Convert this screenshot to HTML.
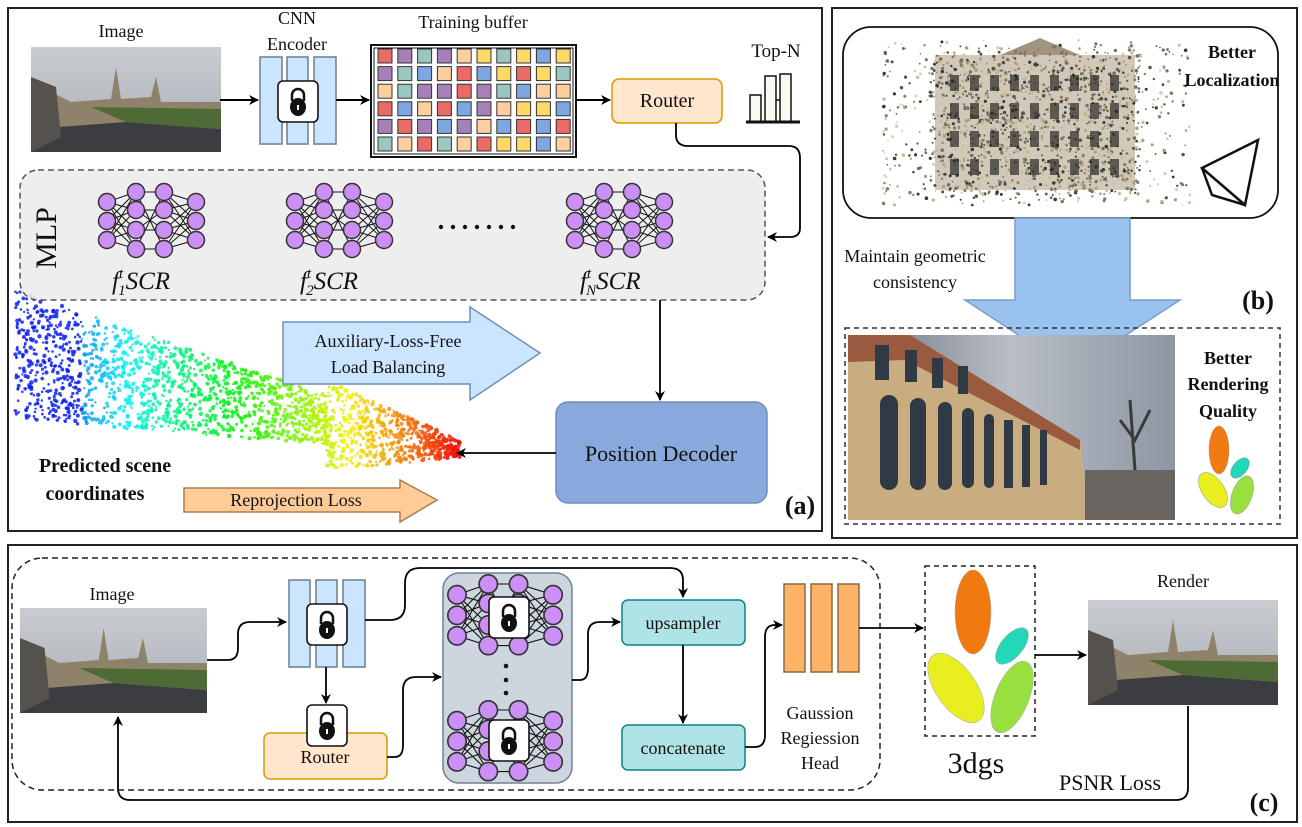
<!DOCTYPE html>
<html><head><meta charset="utf-8"><style>
html,body{margin:0;padding:0;background:#fff}
svg{display:block}
text{font-family:"Liberation Serif",serif;fill:#111}
</style></head><body>
<svg id="s" width="1302" height="827" viewBox="0 0 1302 827" xmlns="http://www.w3.org/2000/svg">
<defs>
<marker id="ah" markerWidth="10" markerHeight="10" refX="9" refY="5" orient="auto" markerUnits="userSpaceOnUse"><path d="M0,0 L10,5 L0,10 L3,5 Z" fill="#000"/></marker>
<g id="nn">
 <g stroke="#111" stroke-width="1">
  <path d="M0,10L29,0M0,10L29,18M0,10L29,38M0,10L29,57M0,29L29,0M0,29L29,18M0,29L29,38M0,29L29,57M0,48L29,0M0,48L29,18M0,48L29,38M0,48L29,57"/>
  <path d="M29,0L57,0M29,0L57,57M29,18L57,38M29,38L57,18M29,57L57,0M29,57L57,57M29,18L57,18M29,38L57,38"/>
  <path d="M57,0L89,10M57,0L89,29M57,0L89,48M57,18L89,10M57,18L89,29M57,18L89,48M57,38L89,10M57,38L89,29M57,38L89,48M57,57L89,10M57,57L89,29M57,57L89,48"/>
 </g>
 <g fill="#cc8ff5" stroke="#333" stroke-width="1.5">
  <circle cx="0" cy="10" r="8.5"/><circle cx="0" cy="29" r="8.5"/><circle cx="0" cy="48" r="8.5"/>
  <circle cx="29" cy="0" r="8.5"/><circle cx="29" cy="18" r="8.5"/><circle cx="29" cy="38" r="8.5"/><circle cx="29" cy="57" r="8.5"/>
  <circle cx="57" cy="0" r="8.5"/><circle cx="57" cy="18" r="8.5"/><circle cx="57" cy="38" r="8.5"/><circle cx="57" cy="57" r="8.5"/>
  <circle cx="89" cy="10" r="8.5"/><circle cx="89" cy="29" r="8.5"/><circle cx="89" cy="48" r="8.5"/>
 </g>
</g>
<g id="lock">
 <rect x="0" y="0" width="40" height="41" rx="5" fill="#fff" stroke="#111" stroke-width="1.6"/>
 <path d="M14,20 V14 a6,6 0 0 1 12,0 V20" fill="none" stroke="#111" stroke-width="2.5"/>
 <ellipse cx="20" cy="26" rx="8" ry="9" fill="#111"/>
 <rect x="19" y="24" width="2" height="5" fill="#fff"/>
</g>
<linearGradient id="sky" x1="0" y1="0" x2="0" y2="1"><stop offset="0" stop-color="#c9ccd1"/><stop offset="1" stop-color="#a9aeb5"/></linearGradient>
<linearGradient id="sky2" x1="0" y1="0" x2="1" y2="0"><stop offset="0" stop-color="#6d7480"/><stop offset="0.5" stop-color="#b9bec6"/><stop offset="1" stop-color="#8d96a3"/></linearGradient>
<g id="photo">
 <rect x="0" y="0" width="190" height="105" fill="url(#sky)"/>
 <path d="M0,40 L20,45 L40,55 L80,52 L85,20 L90,52 L120,50 L125,30 L130,55 L190,55 L190,70 L0,82 Z" fill="#8f826a"/>
 <path d="M60,60 L190,62 L190,82 L95,75 Z" fill="#4f6b35"/>
 <path d="M0,82 L95,75 L190,82 L190,105 L0,105 Z" fill="#3b3d40"/>
 <path d="M0,30 L25,40 L30,90 L0,105 Z" fill="#55524d"/>
</g>
</defs>

<rect x="8" y="8" width="814" height="523" fill="none" stroke="#222" stroke-width="2"/>
<rect x="832" y="8" width="465" height="530" fill="none" stroke="#222" stroke-width="2"/>
<rect x="8" y="545" width="1289" height="277" fill="none" stroke="#222" stroke-width="2"/>

<g id="cloudA"></g>

<text x="121" y="37" font-size="18" text-anchor="middle">Image</text>
<use href="#photo" x="31" y="47"/>
<line x1="220" y1="100" x2="258" y2="100" stroke="#000" stroke-width="2" marker-end="url(#ah)"/>

<text x="297" y="24" font-size="18" text-anchor="middle">CNN</text>
<text x="297" y="50" font-size="18" text-anchor="middle">Encoder</text>
<g fill="#cce5ff" stroke="#6c7e90" stroke-width="1.5">
 <rect x="260" y="57" width="22" height="87"/><rect x="287" y="57" width="21" height="87"/><rect x="314" y="57" width="22" height="87"/>
</g>
<use href="#lock" x="278" y="81"/>
<line x1="336" y1="100" x2="369" y2="100" stroke="#000" stroke-width="2" marker-end="url(#ah)"/>

<text x="473" y="28" font-size="18" text-anchor="middle">Training buffer</text>
<rect x="371" y="45" width="205" height="112" fill="#fff" stroke="#111" stroke-width="2"/>
<rect x="374" y="48" width="199" height="106" fill="none" stroke="#111" stroke-width="1"/>
<g id="grid"></g>
<line x1="576" y1="100" x2="610" y2="100" stroke="#000" stroke-width="2" marker-end="url(#ah)"/>

<rect x="612" y="79" width="110" height="44" rx="7" fill="#ffe6cc" stroke="#d79b00" stroke-width="1.5"/>
<text x="667" y="107" font-size="20" text-anchor="middle">Router</text>
<text x="776" y="57" font-size="19" text-anchor="middle">Top-N</text>
<g fill="#fbf8ee" stroke="#111" stroke-width="1.5">
 <rect x="750" y="95" width="11" height="27"/><rect x="765" y="76" width="11" height="46"/><rect x="780" y="74" width="11" height="48"/><line x1="776" y1="100" x2="780" y2="100"/>
</g>
<line x1="746" y1="122" x2="800" y2="122" stroke="#111" stroke-width="3"/>
<path d="M676,123 V135 Q676,146 688,146 H789 Q800,146 800,158 V228 Q800,237 790,237 H768" fill="none" stroke="#000" stroke-width="1.8" marker-end="url(#ah)"/>

<rect x="20" y="170" width="745" height="130" rx="18" fill="#ececec" fill-opacity="0.9" stroke="#555" stroke-width="1.5" stroke-dasharray="6,4"/>
<text transform="translate(56,238) rotate(-90)" font-size="30" text-anchor="middle">MLP</text>
<use href="#nn" x="107" y="192"/>
<use href="#nn" x="295" y="192"/>
<use href="#nn" x="575" y="192"/>
<g fill="#111"><circle cx="441" cy="227" r="2.2"/><circle cx="453" cy="227" r="2.2"/><circle cx="465" cy="227" r="2.2"/><circle cx="477" cy="227" r="2.2"/><circle cx="489" cy="227" r="2.2"/><circle cx="501" cy="227" r="2.2"/><circle cx="513" cy="227" r="2.2"/></g>
<text x="112" y="289" font-size="25" font-style="italic">f<tspan font-size="15" dy="-11">t</tspan><tspan font-size="15" dx="-5" dy="17">1</tspan><tspan dy="-6">SCR</tspan></text>
<text x="300" y="289" font-size="25" font-style="italic">f<tspan font-size="15" dy="-11">t</tspan><tspan font-size="15" dx="-5" dy="17">2</tspan><tspan dy="-6">SCR</tspan></text>
<text x="580" y="289" font-size="25" font-style="italic">f<tspan font-size="15" dy="-11">t</tspan><tspan font-size="15" dx="-5" dy="17">N</tspan><tspan dy="-6">SCR</tspan></text>

<line x1="660" y1="300" x2="660" y2="400" stroke="#000" stroke-width="1.8" marker-end="url(#ah)"/>
<path d="M283,322 H470 V307 L540,353 L470,400 V384 H283 Z" fill="#cce5ff" stroke="#6c8ebf" stroke-width="1.5"/>
<text x="388" y="347" font-size="18" text-anchor="middle">Auxiliary-Loss-Free</text>
<text x="388" y="373" font-size="18" text-anchor="middle">Load Balancing</text>

<rect x="556" y="402" width="211" height="101" rx="12" fill="#89a9dc" stroke="#6c8ebf" stroke-width="1.5"/>
<text x="661" y="461" font-size="22" text-anchor="middle">Position Decoder</text>
<line x1="556" y1="453" x2="457" y2="453" stroke="#000" stroke-width="1.8" marker-end="url(#ah)"/>

<path d="M184,488 H400 V480 L437,500 L400,522 V512 H184 Z" fill="#ffcc99" stroke="#b07a4a" stroke-width="1.5"/>
<text x="296" y="506" font-size="18" text-anchor="middle">Reprojection Loss</text>
<text x="105" y="472" font-size="20" font-weight="bold" text-anchor="middle">Predicted scene</text>
<text x="95" y="500" font-size="20" font-weight="bold" text-anchor="middle">coordinates</text>
<text x="800" y="514" font-size="26" font-weight="bold" text-anchor="middle">(a)</text>

<rect x="843" y="27" width="435" height="191" rx="28" fill="#fff" stroke="#111" stroke-width="1.8"/>
<g id="cloudB"></g>
<text x="1232" y="58" font-size="18" font-weight="bold" text-anchor="middle">Better</text>
<text x="1232" y="86" font-size="18" font-weight="bold" text-anchor="middle">Localization</text>
<g fill="none" stroke="#111" stroke-width="2.5"><path d="M1202,168 L1258,140 L1245,205 Z M1202,168 L1245,205 M1202,168 L1212,195 L1245,205"/></g>

<path d="M1015,218 H1130 V300 H1180 L1072,370 L965,300 H1015 Z" fill="#99c2ef" stroke="#7a9cc8" stroke-width="1.5"/>
<text x="915" y="262" font-size="18" text-anchor="middle">Maintain geometric</text>
<text x="915" y="288" font-size="18" text-anchor="middle">consistency</text>
<text x="1258" y="309" font-size="26" font-weight="bold" text-anchor="middle">(b)</text>

<rect x="845" y="328" width="435" height="196" fill="none" stroke="#333" stroke-width="1.5" stroke-dasharray="5,4"/>
<g>
 <rect x="848" y="335" width="327" height="185" fill="url(#sky2)"/>
 <path d="M848,335 L910,335 L1080,440 L1090,520 L848,520 Z" fill="#c9ad80"/>
 <path d="M848,335 L910,335 L1080,440 L1080,450 L905,360 L848,362 Z" fill="#9a5a40"/>
 <g fill="#2f3a45">
  <rect x="880" y="395" width="18" height="95" rx="9"/><rect x="910" y="398" width="16" height="92" rx="8"/><rect x="938" y="402" width="14" height="88" rx="7"/><rect x="962" y="408" width="12" height="80" rx="6"/><rect x="984" y="414" width="10" height="74" rx="5"/><rect x="1004" y="420" width="9" height="68"/><rect x="1022" y="425" width="8" height="62"/><rect x="1040" y="430" width="7" height="55"/>
  <rect x="875" y="345" width="14" height="35"/><rect x="905" y="350" width="12" height="32"/><rect x="932" y="358" width="11" height="30"/><rect x="958" y="366" width="10" height="28"/>
 </g>
 <rect x="1085" y="470" width="90" height="50" fill="#6a6560"/>
 <path d="M1130,400 L1135,470 M1120,420 L1135,440 L1150,410" stroke="#3a3a3a" stroke-width="3" fill="none"/>
</g>
<text x="1228" y="364" font-size="18" font-weight="bold" text-anchor="middle">Better</text>
<text x="1228" y="390" font-size="18" font-weight="bold" text-anchor="middle">Rendering</text>
<text x="1228" y="417" font-size="18" font-weight="bold" text-anchor="middle">Quality</text>
<g stroke="#999" stroke-width="0.5">
 <ellipse cx="1219" cy="450" rx="10" ry="24" fill="#f07a10"/>
 <ellipse cx="1240" cy="468" rx="7" ry="12" fill="#22d8b8" transform="rotate(40 1240 468)"/>
 <ellipse cx="1213" cy="490" rx="11" ry="20" fill="#e8ee20" transform="rotate(-35 1213 490)"/>
 <ellipse cx="1242" cy="495" rx="10" ry="20" fill="#98e040" transform="rotate(20 1242 495)"/>
</g>

<rect x="12" y="558" width="868" height="232" rx="30" fill="none" stroke="#222" stroke-width="1.5" stroke-dasharray="6,4"/>
<text x="112" y="600" font-size="18" text-anchor="middle">Image</text>
<use href="#photo" x="20" y="608" transform="translate(20 608) scale(0.984 1) translate(-20 -608)"/>
<text x="1183" y="587" font-size="18" text-anchor="middle">Render</text>
<use href="#photo" x="1088" y="600"/>

<path d="M207,660 H228 Q238,660 238,648 V634 Q238,622 250,622 H286" fill="none" stroke="#000" stroke-width="1.8" marker-end="url(#ah)"/>
<g fill="#cce5ff" stroke="#6c7e90" stroke-width="1.5">
 <rect x="289" y="580" width="21" height="87"/><rect x="316" y="580" width="21" height="87"/><rect x="343" y="580" width="22" height="87"/>
</g>
<use href="#lock" x="307" y="604"/>
<path d="M365,620 H390 Q405,620 405,605 V583 Q405,568 420,568 H670 Q683,568 683,580 V597" fill="none" stroke="#000" stroke-width="1.8" marker-end="url(#ah)"/>
<line x1="326" y1="667" x2="326" y2="703" stroke="#000" stroke-width="1.8" marker-end="url(#ah)"/>
<rect x="264" y="733" width="123" height="46" rx="6" fill="#ffe6cc" stroke="#d79b00" stroke-width="1.5"/>
<use href="#lock" x="307" y="705"/>
<text x="325" y="763" font-size="18" text-anchor="middle">Router</text>
<path d="M387,757 H395 Q403,757 403,745 V690 Q403,677 416,677 H441" fill="none" stroke="#000" stroke-width="1.8" marker-end="url(#ah)"/>

<rect x="443" y="573" width="129" height="210" rx="16" fill="#cdd6df" stroke="#6f8294" stroke-width="1.5"/>
<use href="#nn" transform="translate(457,584) scale(1.08)"/>
<use href="#nn" transform="translate(457,710) scale(1.08)"/>
<use href="#lock" x="489" y="597"/>
<use href="#lock" x="489" y="720"/>
<g fill="#111"><circle cx="506" cy="666" r="2.3"/><circle cx="506" cy="680" r="2.3"/><circle cx="506" cy="693" r="2.3"/></g>
<path d="M572,680 H580 Q588,680 588,668 V634 Q588,622 600,622 H620" fill="none" stroke="#000" stroke-width="1.8" marker-end="url(#ah)"/>

<rect x="622" y="600" width="123" height="45" rx="6" fill="#b0e3e6" stroke="#0e8088" stroke-width="1.5"/>
<text x="683" y="629" font-size="18" text-anchor="middle">upsampler</text>
<line x1="683" y1="645" x2="683" y2="723" stroke="#000" stroke-width="1.8" marker-end="url(#ah)"/>
<rect x="622" y="725" width="123" height="45" rx="6" fill="#b0e3e6" stroke="#0e8088" stroke-width="1.5"/>
<text x="683" y="754" font-size="18" text-anchor="middle">concatenate</text>
<path d="M745,747 H755 Q765,747 765,735 V637 Q765,625 775,625 H782" fill="none" stroke="#000" stroke-width="1.8" marker-end="url(#ah)"/>
<g fill="#ffb366" stroke="#8a6a40" stroke-width="1.5">
 <rect x="784" y="584" width="21" height="88"/><rect x="811" y="584" width="21" height="88"/><rect x="838" y="584" width="21" height="88"/>
</g>
<text x="820" y="719" font-size="18" text-anchor="middle">Gaussion</text>
<text x="820" y="744" font-size="18" text-anchor="middle">Regiession</text>
<text x="820" y="769" font-size="18" text-anchor="middle">Head</text>
<line x1="859" y1="628" x2="923" y2="628" stroke="#000" stroke-width="1.8" marker-end="url(#ah)"/>

<rect x="925" y="566" width="110" height="170" fill="none" stroke="#222" stroke-width="1.5" stroke-dasharray="5,4"/>
<g stroke="#aaa" stroke-width="0.5">
 <ellipse cx="973" cy="612" rx="18" ry="42" fill="#f07a10"/>
 <ellipse cx="1012" cy="646" rx="11" ry="22" fill="#22d8b8" transform="rotate(40 1012 646)"/>
 <ellipse cx="956" cy="688" rx="20" ry="40" fill="#e8ee20" transform="rotate(-35 956 688)"/>
 <ellipse cx="1012" cy="697" rx="17" ry="38" fill="#98e040" transform="rotate(22 1012 697)"/>
</g>
<text x="976" y="773" font-size="30" text-anchor="middle">3dgs</text>
<line x1="1035" y1="655" x2="1086" y2="655" stroke="#000" stroke-width="1.8" marker-end="url(#ah)"/>
<path d="M1188,706 V788 Q1188,800 1176,800 H130 Q118,800 118,788 V717" fill="none" stroke="#000" stroke-width="1.8" marker-end="url(#ah)"/>
<text x="1110" y="790" font-size="22" text-anchor="middle">PSNR Loss</text>
<text x="1264" y="811" font-size="26" font-weight="bold" text-anchor="middle">(c)</text>
</svg>
<script>
(function(){
var C={r:"#ea6b66",p:"#a680b8",t:"#9ac7bf",e:"#ffce9f",y:"#ffd966",b:"#7ea6e0"};
var rows=["rptpeytyby","ptberbyryt","etpprptbee","rberbpeyyb","prpbpebrbr","terteryybe"];
var g=document.getElementById("grid"),h="";
rows.forEach(function(r,i){for(var j=0;j<10;j++){h+='<rect x="'+(378+j*19.8)+'" y="'+(49+i*17.6)+'" width="14" height="14" fill="'+C[r[j]]+'" stroke="#333" stroke-width="1"/>';}});
g.innerHTML=h;
var s=12345;function R(){s=(s*1103515245+12345)%2147483648;return s/2147483648;}
var a="";
for(var k=0;k<2200;k++){
 var t=R(); var x=15+t*445;
 var top=290+t*150, bot=420+t*35; if(t>0.7){top=380+(t-0.7)*200;bot=470-(t-0.7)*40;}
 var y=top+R()*(bot-top);
 var hue=240-t*240; if(t<0.15)hue=235;
 a+='<circle cx="'+x.toFixed(1)+'" cy="'+y.toFixed(1)+'" r="'+(1.1+R()*1.1).toFixed(1)+'" fill="hsl('+hue.toFixed(0)+',90%,50%)" fill-opacity="0.85"/>';
}
document.getElementById("cloudA").innerHTML=a;
var b='<rect x="935" y="55" width="200" height="135" fill="#a99a80" opacity="0.55"/>';
var cols=["#5a5040","#8a7a60","#c8b898","#3a3a30","#b0a080","#707060","#d8cbb0"];
for(var k=0;k<2400;k++){
 var x=880+R()*310,y=40+R()*165;
 var inb=(x>930&&x<1140&&y>50&&y<195);
 if(!inb&&R()<0.75)continue;
 b+='<circle cx="'+x.toFixed(1)+'" cy="'+y.toFixed(1)+'" r="'+(0.7+R()*1.1).toFixed(1)+'" fill="'+cols[Math.floor(R()*7)]+'"/>';
}
for(var i=0;i<4;i++)for(var j=0;j<9;j++){b+='<rect x="'+(950+j*20)+'" y="'+(75+i*28)+'" width="9" height="16" fill="#2a2a25" opacity="0.7"/>';}
b+='<path d="M1000,55 L1040,38 L1080,55 Z" fill="#8a7a60" opacity="0.8"/>';
document.getElementById("cloudB").innerHTML=b;
})();
</script>
</body></html>
